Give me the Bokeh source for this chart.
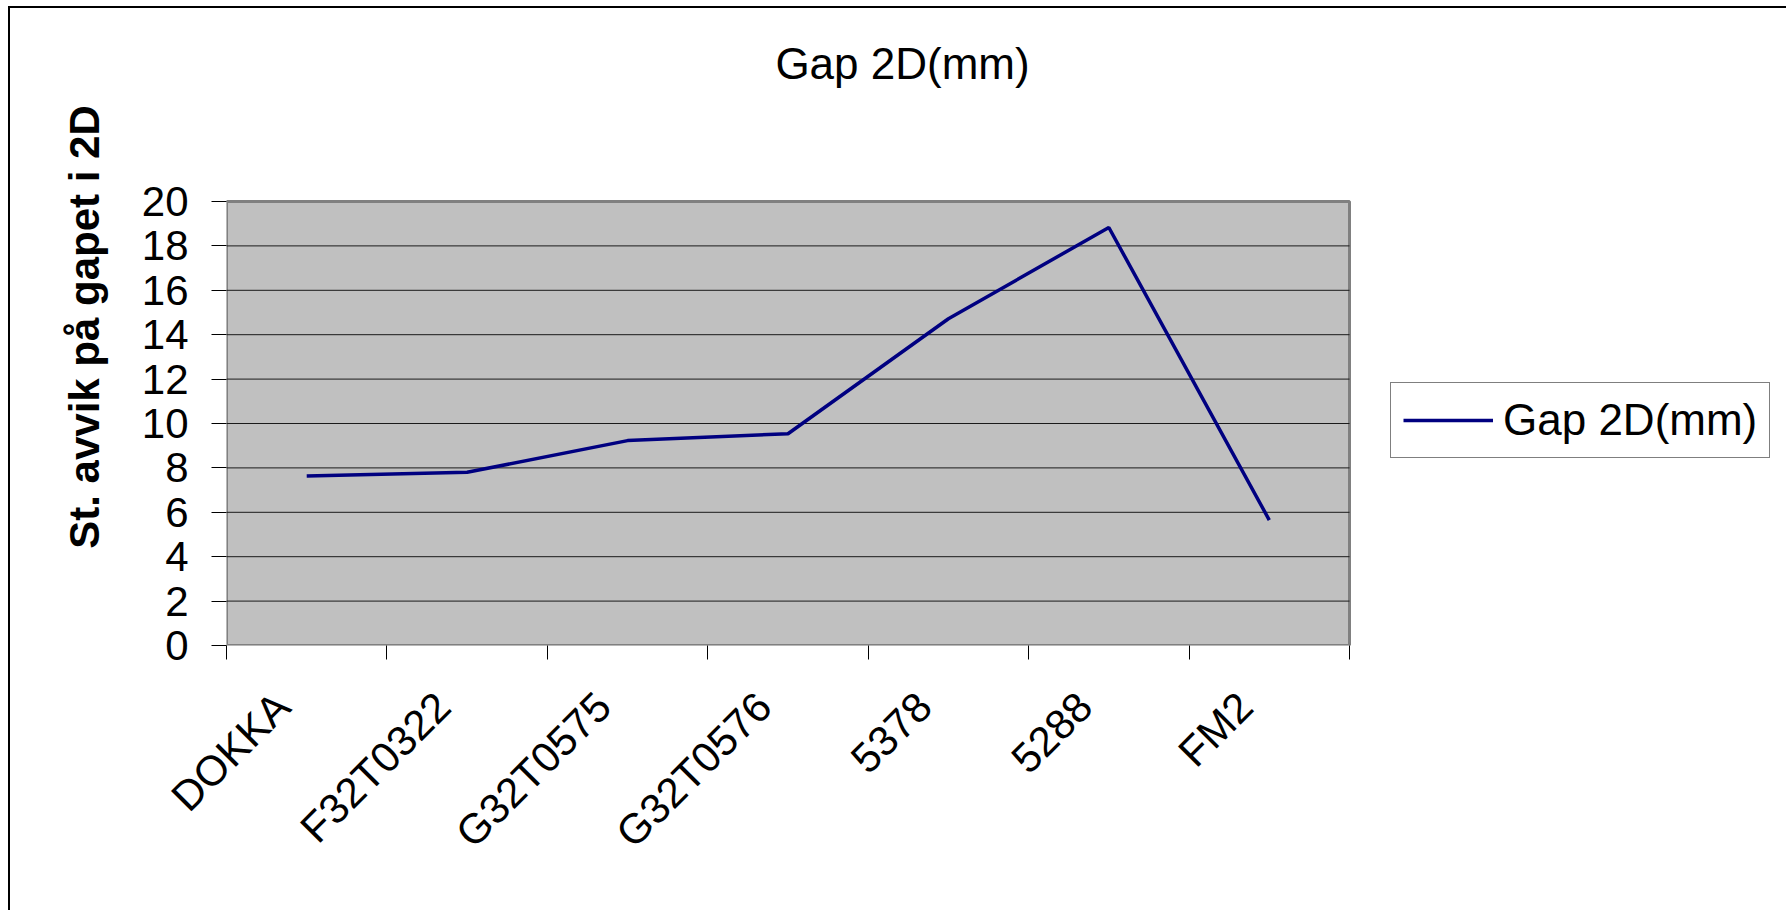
import math
from bokeh.plotting import figure
from bokeh.models import FixedTicker, Range1d, Legend, LegendItem, ColumnDataSource, Label
from bokeh.embed import file_html
from bokeh.resources import INLINE

# ---- data ----
categories = ["DOKKA", "F32T0322", "G32T0575", "G32T0576", "5378", "5288", "FM2"]
gap_2d = [7.64, 7.80, 9.23, 9.54, 14.72, 18.83, 5.65]
y_ticks = [0, 2, 4, 6, 8, 10, 12, 14, 16, 18, 20]
chart_title = "Gap 2D(mm)"
series_name = "Gap 2D(mm)"
y_label = "St. avvik på gapet i 2D"

FONT = "Liberation Sans"
FS = "42px"
FS_T = "44px"

# ---- layout (pixels) ----
W, H = 1778, 904
LEFT = 216               # canvas x of the plot area's left edge
PLOT_W, PLOT_H = 1123, 444   # size of the grey plot area
PLOT_BOTTOM = 637        # canvas y of the plot area's bottom edge
FRAME_W = W - LEFT
FRAME_H = PLOT_BOTTOM

n = len(categories)
ymax = y_ticks[-1]
px_x = n / PLOT_W        # data units per pixel
px_y = ymax / PLOT_H

xs = [i + 0.5 for i in range(n)]
src = ColumnDataSource(dict(x=xs, y=gap_2d, cat=categories))

p = figure(width=W, height=H, output_backend="svg", toolbar_location=None,
           x_range=Range1d(0, FRAME_W * px_x), y_range=Range1d(0, FRAME_H * px_y),
           min_border_left=LEFT, min_border_top=0, min_border_right=0,
           min_border_bottom=H - FRAME_H)
p.styles = {"border-top": "2px solid black", "border-left": "2px solid black",
            "margin-top": "6px", "margin-left": "8px"}

p.background_fill_color = "white"
p.border_fill_color = "white"
p.outline_line_color = None

# grey plot area and horizontal gridlines
p.quad(left=0, right=n, bottom=0, top=ymax, fill_color="#C0C0C0",
       line_color="#808080", line_width=3)
p.segment(x0=[0] * (len(y_ticks) - 2), x1=[n] * (len(y_ticks) - 2),
          y0=y_ticks[1:-1], y1=y_ticks[1:-1], line_color="#1a1a1a", line_width=1)
p.xgrid.visible = False
p.ygrid.visible = False

# y axis
yax = p.yaxis[0]
yax.bounds = (0, ymax)
yax.ticker = FixedTicker(ticks=y_ticks)
yax.axis_line_color = None
yax.major_tick_out = 15
yax.major_tick_in = 0
yax.major_tick_line_color = "black"
yax.minor_tick_line_color = None
yax.major_label_text_font = FONT
yax.major_label_text_font_size = FS
yax.major_label_text_color = "black"
yax.major_label_standoff = 23
yax.axis_label = y_label
yax.axis_label_text_font = FONT
yax.axis_label_text_font_size = FS
yax.axis_label_text_font_style = "bold"
yax.axis_label_text_color = "black"
yax.axis_label_standoff = 31

# x axis: boundary ticks as minor ticks, labels near the centers
label_shift = 0.15
label_pos = [x - label_shift for x in xs]
xax = p.xaxis[0]
xax.bounds = (0, n)
xax.ticker = FixedTicker(ticks=label_pos, minor_ticks=list(range(n + 1)))
xax.major_label_overrides = {x: c for x, c in zip(label_pos, categories)}
xax.axis_line_color = None
xax.major_tick_line_color = None
xax.minor_tick_out = 14
xax.minor_tick_in = 0
xax.minor_tick_line_color = "black"
xax.major_label_orientation = math.pi / 4
xax.major_label_text_font = FONT
xax.major_label_text_font_size = FS
xax.major_label_text_color = "black"
xax.major_label_standoff = 40

r = p.line("x", "y", source=src, line_color="#000080", line_width=3.5)

legend = Legend(items=[LegendItem(label=series_name, renderers=[r])],
                location=(PLOT_W + 41, 187),
                label_text_font=FONT, label_text_font_size=FS_T,
                label_text_color="black",
                glyph_width=90, glyph_height=40, label_standoff=10,
                padding=12, spacing=0, margin=0,
                border_line_color="black", border_line_width=1,
                background_fill_color="white", background_fill_alpha=1)
p.add_layout(legend)

# chart title, centred over the whole chart area
p.add_layout(Label(x=676 * px_x, y=ymax + 138 * px_y, text=chart_title,
                   text_font=FONT, text_font_size=FS_T, text_color="black",
                   text_align="center", text_baseline="alphabetic"))

open("out.html", "w").write(file_html(p, INLINE))
